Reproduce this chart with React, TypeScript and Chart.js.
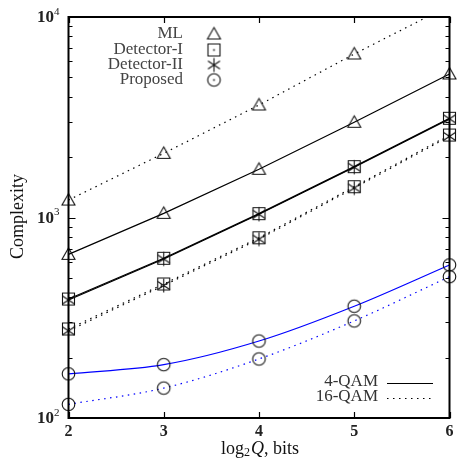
import React, { useEffect, useRef } from "react";
import { Chart, registerables } from "chart.js";
Chart.register(...registerables);

const xValues = [2, 3, 4, 5, 6];
const xTickLabels = ["2", "3", "4", "5", "6"];
const yDecades = [100, 1000, 10000];
const yDecadeExp = ["2", "3", "4"];
const ml4 = [655, 1049, 1740, 2984, 5197];
const ml16 = [1222, 2089, 3640, 6540, 11400];
const det1_4 = [392, 626, 1045, 1793, 3124];
const det2_4 = [388, 621, 1038, 1782, 3105];
const det1_16 = [278, 466, 792, 1424, 2579];
const det2_16 = [272, 458, 780, 1404, 2540];
const prop4 = [166, 184.5, 242, 361, 580];
const prop16 = [117, 141, 197, 305, 507];
const methodNames = ["ML", "Detector-I", "Detector-II", "Proposed"];
const qamNames = ["4-QAM", "16-QAM"];

const SERIF = "'Liberation Serif', 'DejaVu Serif', serif";
const MARK = "#111";

function makeMarker(kind: string, dot = false): HTMLCanvasElement {
  const c = document.createElement("canvas");
  c.width = 17;
  c.height = 17;
  const g = c.getContext("2d")!;
  g.strokeStyle = MARK;
  g.fillStyle = MARK;
  g.lineWidth = 1.1;
  const m = 8.5;
  g.beginPath();
  if (kind === "triangle") {
    g.moveTo(m, 2);
    g.lineTo(m + 6.5, 13.5);
    g.lineTo(m - 6.5, 13.5);
    g.closePath();
    g.stroke();
  } else if (kind === "square") {
    g.rect(2.5, 2.5, 12, 12);
    g.stroke();
    if (dot) g.fillRect(m - 0.8, m - 0.8, 1.6, 1.6);
  } else if (kind === "star") {
    g.moveTo(m, 1.5);
    g.lineTo(m, 15.5);
    g.moveTo(2.5, 4.5);
    g.lineTo(14.5, 12.5);
    g.moveTo(14.5, 4.5);
    g.lineTo(2.5, 12.5);
    g.stroke();
  } else {
    g.arc(m, m, 6.3, 0, Math.PI * 2);
    g.stroke();
    if (dot) g.fillRect(m - 0.8, m - 0.8, 1.6, 1.6);
  }
  return c;
}

function pts(ys: number[]) {
  return xValues.map((x, i) => ({ x, y: ys[i] }));
}

export default function App() {
  const ref = useRef<HTMLCanvasElement>(null);
  useEffect(() => {
    const tri = makeMarker("triangle");
    const sq = makeMarker("square");
    const st = makeMarker("star");
    const ci = makeMarker("circle");
    const legendMarkers = [makeMarker("triangle"), makeMarker("square", true), makeMarker("star"), makeMarker("circle", true)];
    const dotted = [1.5, 4.5];
    const clipSide = { left: 10, right: 10, top: 10, bottom: 10 };
    const mk = (data: number[], color: string, dash: number[], marker: HTMLCanvasElement, extra: any = {}) => ({
      data: pts(data),
      borderColor: color,
      borderWidth: 1.2,
      borderDash: dash,
      pointStyle: marker,
      pointRadius: 6,
      backgroundColor: "transparent",
      clip: clipSide,
      ...extra,
    });
    const overlay = {
      id: "overlay",
      afterDraw(chart: any) {
        const ctx = chart.ctx as CanvasRenderingContext2D;
        const a = chart.chartArea;
        const xs = chart.scales.x;
        const ys = chart.scales.y;
        ctx.save();
        ctx.strokeStyle = "#000";
        ctx.lineWidth = 1.2;
        ctx.setLineDash([]);
        ctx.beginPath();
        for (let d = 0; d < yDecades.length; d++) {
          const base = yDecades[d];
          for (let k = 1; k <= 9; k++) {
            const v = base * k;
            if (v > 10000) break;
            const py = Math.round(ys.getPixelForValue(v)) + 0.5;
            const len = k === 1 ? 7 : 4;
            ctx.moveTo(a.left, py);
            ctx.lineTo(a.left + len, py);
            ctx.moveTo(a.right, py);
            ctx.lineTo(a.right - len, py);
          }
        }
        for (const xv of xValues) {
          const px = Math.round(xs.getPixelForValue(xv)) + 0.5;
          ctx.moveTo(px, a.bottom);
          ctx.lineTo(px, a.bottom - 6);
          ctx.moveTo(px, a.top);
          ctx.lineTo(px, a.top + 6);
        }
        ctx.stroke();
        ctx.lineWidth = 2;
        ctx.strokeRect(a.left, a.top, a.right - a.left, a.bottom - a.top);

        ctx.fillStyle = "#222";
        ctx.textBaseline = "middle";
        ctx.textAlign = "center";
        ctx.font = `bold 16px ${SERIF}`;
        xValues.forEach((xv, i) => {
          ctx.fillText(xTickLabels[i], xs.getPixelForValue(xv), a.bottom + 14);
        });
        yDecades.forEach((v, i) => {
          const py = ys.getPixelForValue(v);
          ctx.font = `11px ${SERIF}`;
          ctx.textAlign = "right";
          const supW = ctx.measureText(yDecadeExp[i]).width;
          ctx.fillText(yDecadeExp[i], a.left - 9, py - 5);
          ctx.font = `bold 17px ${SERIF}`;
          ctx.fillText("10", a.left - 9 - supW, py + 1);
        });

        ctx.fillStyle = "#111";
        ctx.textAlign = "left";
        const t1 = "log";
        const t3 = "Q";
        const t4 = ", bits";
        ctx.font = `18px ${SERIF}`;
        const w1 = ctx.measureText(t1).width;
        ctx.font = `12px ${SERIF}`;
        const w2 = ctx.measureText("2").width;
        ctx.font = `italic 18px ${SERIF}`;
        const w3 = ctx.measureText(t3).width;
        ctx.font = `18px ${SERIF}`;
        const w4 = ctx.measureText(t4).width;
        const total = w1 + w2 + w3 + w4 + 1;
        let tx = 260 - total / 2;
        const ty = 449;
        ctx.fillText(t1, tx, ty);
        tx += w1;
        ctx.font = `12px ${SERIF}`;
        ctx.fillText("2", tx, ty + 4);
        tx += w2 + 1;
        ctx.font = `italic 18px ${SERIF}`;
        ctx.fillText(t3, tx, ty);
        tx += w3;
        ctx.font = `18px ${SERIF}`;
        ctx.fillText(t4, tx, ty);

        ctx.save();
        ctx.translate(18, 216.5);
        ctx.rotate(-Math.PI / 2);
        ctx.textAlign = "center";
        ctx.font = `18px ${SERIF}`;
        ctx.fillText("Complexity", 0, 0);
        ctx.restore();

        ctx.fillStyle = "#444";
        ctx.font = `17px ${SERIF}`;
        ctx.textAlign = "right";
        const rows = [34, 50, 65, 80];
        methodNames.forEach((n, i) => {
          ctx.fillText(n, 183, rows[i]);
          ctx.drawImage(legendMarkers[i], 214 - 8.5, rows[i] - 8.5);
        });

        ctx.fillStyle = "#333";
        const rows2 = [382, 397];
        qamNames.forEach((n, i) => {
          ctx.fillText(n, 378, rows2[i]);
          ctx.beginPath();
          ctx.lineWidth = 1.2;
          ctx.strokeStyle = "#000";
          ctx.setLineDash(i === 0 ? [] : dotted);
          ctx.moveTo(387, rows2[i] + 1.5);
          ctx.lineTo(433, rows2[i] + 1.5);
          ctx.stroke();
        });
        ctx.restore();
      },
    };
    const chart = new Chart(ref.current!, {
      type: "line",
      data: {
        datasets: [
          mk(ml16, "#000", dotted, tri, { clip: { left: 10, right: 10, top: 0, bottom: 10 } }),
          mk(ml4, "#000", [], tri),
          mk(det1_4, "#000", [], sq),
          mk(det2_4, "#000", [], st),
          mk(det1_16, "#000", dotted, sq),
          mk(det2_16, "#000", dotted, st),
          mk(prop4, "#0000ff", [], ci, { cubicInterpolationMode: "monotone" }),
          mk(prop16, "#0000ff", dotted, ci, { cubicInterpolationMode: "monotone" }),
        ] as any,
      },
      options: {
        animation: false,
        responsive: false,
        devicePixelRatio: 1,
        layout: { padding: { left: 68.5, right: 7.5, top: 17, bottom: 48 } },
        plugins: { legend: { display: false }, tooltip: { enabled: false } },
        scales: {
          x: { type: "linear", min: 2, max: 6, display: false },
          y: { type: "logarithmic", min: 100, max: 10000, display: false },
        },
      },
      plugins: [overlay],
    });
    return () => chart.destroy();
  }, []);
  return (
    <div style={{ position: "absolute", left: 0, top: 0, width: 457, height: 466, background: "#fff" }}>
      <canvas ref={ref} width={457} height={466} style={{ display: "block", width: 457, height: 466 }} />
    </div>
  );
}
